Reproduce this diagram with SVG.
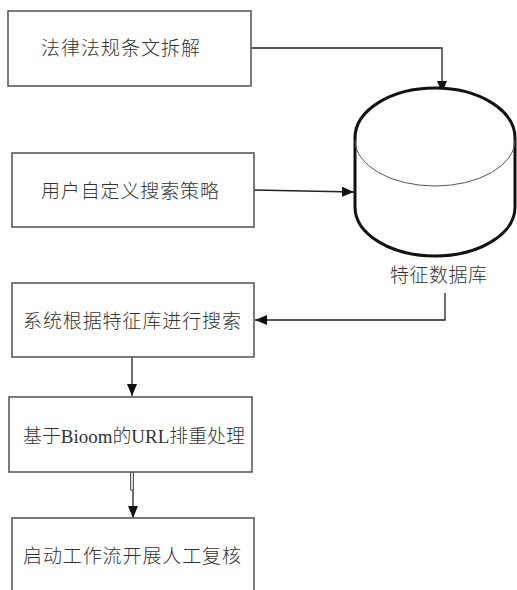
<svg xmlns="http://www.w3.org/2000/svg" width="517" height="590" viewBox="0 0 517 590">
<defs>
<style>
.box{fill:#fff;stroke:#5a5a5a;stroke-width:1.6}
.t{font-family:"Liberation Serif","Noto Sans CJK SC",serif;font-size:19px;font-weight:300;fill:#333}
.c{fill:none;stroke:#222;stroke-width:1.3}
.cyl{fill:#fff;stroke:#111;stroke-width:3}
</style>
<marker id="ah" viewBox="0 0 12 10" refX="12" refY="5" markerWidth="12" markerHeight="10" markerUnits="userSpaceOnUse" orient="auto">
<path d="M0,0 L12,5 L0,10 Z" fill="#111"/>
</marker>
</defs>
<rect width="517" height="590" fill="#fff"/>
<g id="connectors">
<path class="c" d="M251,48 H442 V93" marker-end="url(#ah)"/>
<path class="c" d="M254,190 L354,192" marker-end="url(#ah)"/>
<path class="c" d="M445,293 V320 H255" marker-end="url(#ah)"/>
<path class="c" d="M132,357 V396" marker-end="url(#ah)"/>
<rect x="130.5" y="472" width="3" height="18" fill="#ddd" stroke="#555" stroke-width="1"/>
<path class="c" d="M133,490 V518" marker-end="url(#ah)"/>
</g>
<g id="n1">
<rect class="box" x="8" y="11" width="243" height="75"/>
<text class="t" x="41" y="55" textLength="159" lengthAdjust="spacing">法律法规条文拆解</text>
</g>
<g id="n2">
<rect class="box" x="12" y="153" width="242" height="74"/>
<text class="t" x="41" y="198" textLength="178" lengthAdjust="spacing">用户自定义搜索策略</text>
</g>
<g id="db">
<path class="cyl" d="M355,138 V207 A80,49 0 0 0 515,207 V138 A80,50 0 0 0 355,138 Z"/>
<path d="M355,140 A80,46 0 0 0 515,140" fill="none" stroke="#555" stroke-width="1"/>
<text class="t" x="390" y="282" textLength="97" lengthAdjust="spacing">特征数据库</text>
</g>
<g id="n3">
<rect class="box" x="12" y="283" width="242" height="74"/>
<text class="t" x="23" y="328" textLength="218" lengthAdjust="spacing">系统根据特征库进行搜索</text>
</g>
<g id="n4">
<rect class="box" x="9" y="397" width="243" height="75"/>
<text class="t" x="23" y="443" textLength="222" lengthAdjust="spacingAndGlyphs">基于Bioom的URL排重处理</text>
</g>
<g id="n5">
<rect class="box" x="12" y="518" width="242" height="80"/>
<text class="t" x="23" y="563" textLength="218" lengthAdjust="spacing">启动工作流开展人工复核</text>
</g>
</svg>
